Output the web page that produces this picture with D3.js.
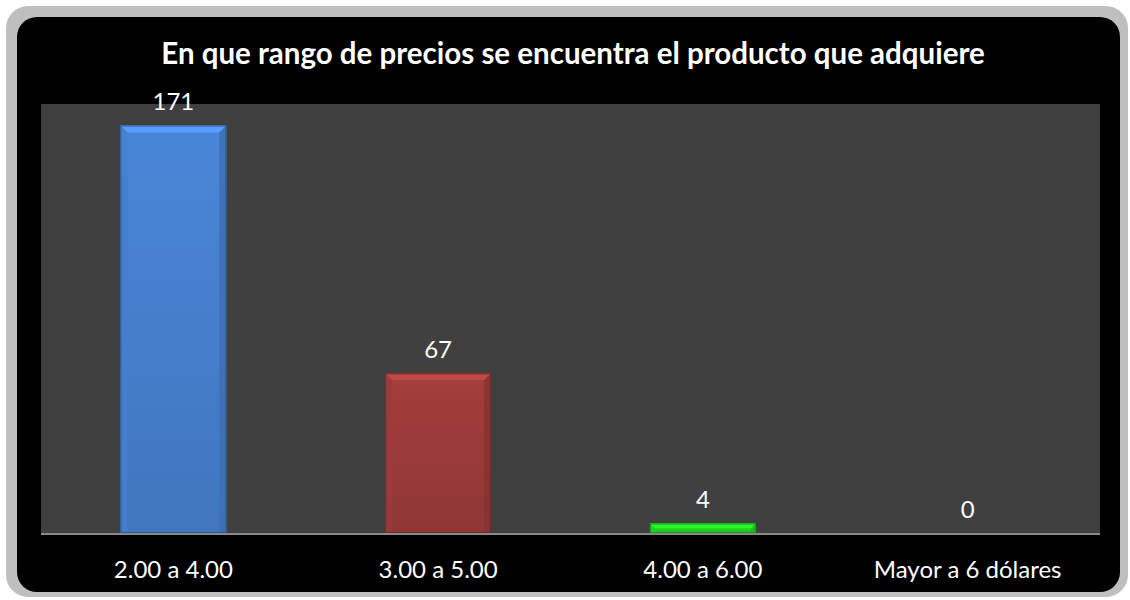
<!DOCTYPE html>
<html>
<head>
<meta charset="utf-8">
<script src="https://cdn.jsdelivr.net/npm/d3@7"></script>
<style>
  html, body { margin: 0; padding: 0; background: #ffffff; }
  svg { display: block; }
</style>
</head>
<body>
<svg id="chart" width="1130" height="600"></svg>
<script>
// Chart data
const title = "En que rango de precios se encuentra el producto que adquiere";
const categories = ["2.00 a 4.00", "3.00 a 5.00", "4.00 a 6.00", "Mayor a 6 dólares"];
const values = [171, 67, 4, 0];
const barColors = ["#4a86d8", "#a33e3c", "#22e022", "#7f5fa8"];
const yDomain = [0, 180];

const svg = d3.select("#chart");
const font = "Lato, 'Open Sans', sans-serif";

// Outer frame and black chart area
svg.append("rect").attr("x", 6).attr("y", 6).attr("width", 1122).attr("height", 591)
  .attr("rx", 22).attr("fill", "#bfbfbf");
svg.append("rect").attr("x", 17).attr("y", 17).attr("width", 1103).attr("height", 575)
  .attr("rx", 20).attr("fill", "#000000");

const plot = { left: 41, right: 1100, top: 104, bottom: 533 };

svg.append("rect")
  .attr("x", plot.left).attr("y", plot.top)
  .attr("width", plot.right - plot.left).attr("height", plot.bottom - plot.top)
  .attr("fill", "#404040");

const x = d3.scaleBand().domain(categories).range([plot.left, plot.right])
  .paddingInner(0.6).paddingOuter(0.3);
const y = d3.scaleLinear().domain(yDomain).range([plot.bottom, plot.top]);

// Vertical shading per bar colour
const defs = svg.append("defs");
barColors.forEach((c, i) => {
  const col = d3.color(c);
  const grad = defs.append("linearGradient").attr("id", "barGrad" + i)
    .attr("x1", 0).attr("y1", 0).attr("x2", 0).attr("y2", 1);
  grad.append("stop").attr("offset", "0%").attr("stop-color", col.formatHex());
  grad.append("stop").attr("offset", "100%").attr("stop-color", col.darker(0.35).formatHex());
});

// Bars with a bevelled edge
const bevel = 7;
const bars = svg.append("g");
const pts = arr => arr.map(p => p.join(",")).join(" ");
categories.forEach((c, i) => {
  const v = values[i];
  const x0 = x(c), x1 = x(c) + x.bandwidth();
  const y0 = y(v), y1 = y(0);
  const h = y1 - y0;
  if (h <= 0) return;
  const col = d3.color(barColors[i]);
  const b = Math.min(bevel, h / 2);
  const g = bars.append("g");
  g.append("rect").attr("x", x0).attr("y", y0).attr("width", x1 - x0).attr("height", h)
    .attr("fill", `url(#barGrad${i})`);
  // top facet (lighter)
  g.append("polygon")
    .attr("points", pts([[x0, y0], [x1, y0], [x1 - b, y0 + b], [x0 + b, y0 + b]]))
    .attr("fill", col.brighter(0.45).formatHex());
  // left facet
  g.append("polygon")
    .attr("points", pts([[x0, y0], [x0 + b, y0 + b], [x0 + b, y1], [x0, y1]]))
    .attr("fill", col.darker(0.15).formatHex()).attr("opacity", 0.8);
  // right facet (darker)
  g.append("polygon")
    .attr("points", pts([[x1, y0], [x1 - b, y0 + b], [x1 - b, y1], [x1, y1]]))
    .attr("fill", col.darker(0.55).formatHex()).attr("opacity", 0.85);
  g.append("rect").attr("x", x0 + 0.5).attr("y", y0 + 0.5).attr("width", x1 - x0 - 1).attr("height", h - 1)
    .attr("fill", "none").attr("stroke", col.darker(1.1).formatHex()).attr("stroke-width", 1);
});

// Value labels
svg.append("g").selectAll("text").data(categories).join("text")
  .attr("x", c => x(c) + x.bandwidth() / 2)
  .attr("y", (c, i) => y(values[i]) - 15)
  .attr("text-anchor", "middle")
  .attr("fill", "#ffffff")
  .attr("font-family", font)
  .attr("font-size", 24)
  .text((c, i) => values[i]);

// Baseline
svg.append("line")
  .attr("x1", plot.left).attr("x2", plot.right)
  .attr("y1", plot.bottom + 1).attr("y2", plot.bottom + 1)
  .attr("stroke", "#8a8a8a").attr("stroke-width", 2);

// Category axis labels
const xAxis = d3.axisBottom(x).tickSize(0).tickPadding(0);
const ax = svg.append("g").attr("transform", `translate(0,${plot.bottom + 37})`).call(xAxis);
ax.select(".domain").remove();
ax.selectAll("text").attr("fill", "#ffffff").attr("font-family", font).attr("font-size", 24)
  .attr("dy", "0.35em");

// Title
svg.append("text")
  .attr("x", 573).attr("y", 64)
  .attr("text-anchor", "middle")
  .attr("fill", "#ffffff")
  .attr("font-family", font)
  .attr("font-weight", "bold")
  .attr("font-size", 29.5)
  .text(title);
</script>
</body>
</html>
